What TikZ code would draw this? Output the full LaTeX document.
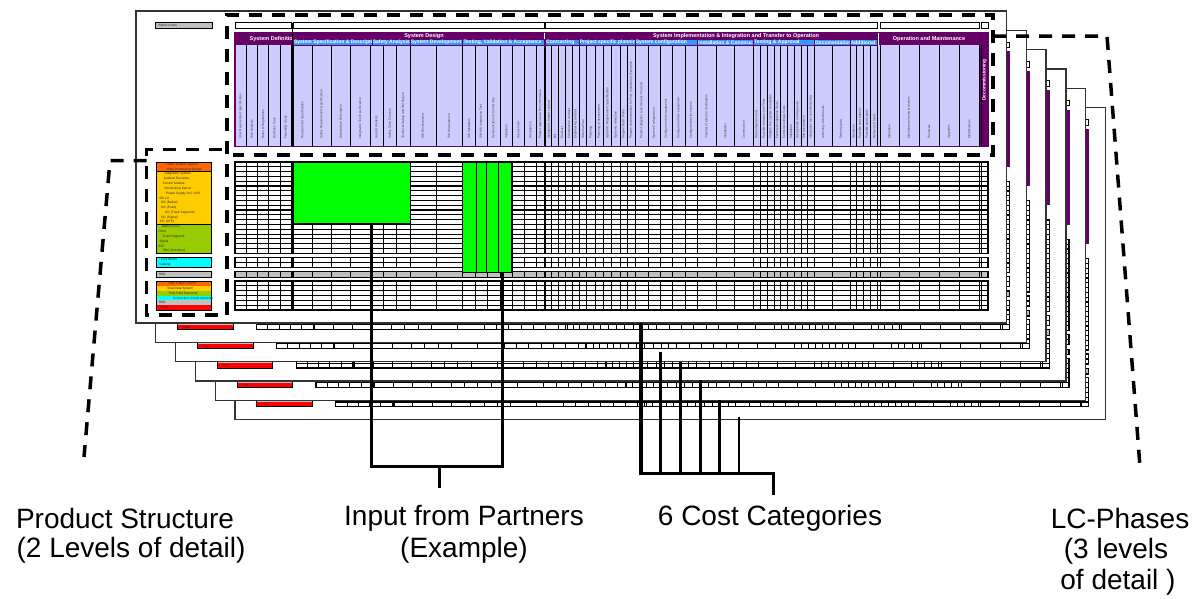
\documentclass[tikz,border=0pt]{standalone}
\usepackage{fontspec}
\setmainfont{Liberation Sans}
\setsansfont{Liberation Sans}
\definecolor{phasepurple}{HTML}{660066}
\definecolor{lav}{HTML}{CCCCFF}
\definecolor{subblue}{HTML}{3399FF}
\definecolor{psorange}{HTML}{FF6600}
\definecolor{psyellow}{HTML}{FFCC00}
\definecolor{psgreen}{HTML}{99CC00}
\definecolor{pscyan}{HTML}{00FFFF}
\definecolor{psgrey}{HTML}{C0C0C0}
\definecolor{psred}{HTML}{FF0000}
\definecolor{inputgreen}{HTML}{00FF00}
\def\tcols{246.3,257.7,268.7,280,291.7,293.3,312,331.3,350.7,370,383.3,396.7,410,436,462.7,475,487.3,500,512.3,524.3,536.7,544,545.5,551.7,558.3,565.7,572.3,579,586.7,595,603.3,611.7,620,627.3,635,648.3,660,672.3,685,697.3,716,734.3,753.3,760,767.3,774,780.7,787.7,794.3,801,807.3,814.3,832.3,850,856.7,863.3,870.7,877.7,880,899,919,939,959.3,979.3,981}
\newcommand{\tgroup}[3]{%
  \foreach \r in {1,...,#3}{\ifnum\r<#3 \draw[tblh] (235,{#1+\r*(#2-#1)/#3}) -- (988,{#1+\r*(#2-#1)/#3});\fi}
  \foreach \xx in \tcols {\draw[tbl] (\xx,#1) -- (\xx,#2);}
  \draw[line width=1.8pt] (292.5,#1) -- (292.5,#2);
  \draw[tblh] (235,#1) rectangle (988,#2);
}
\newcommand{\sheetbody}{%
  \draw[thinbox,fill=psgrey] (155,22.7) rectangle (212,28.3);
  \foreach \xa/\xb in {235/291.7,293.3/544,545.5/877.7,880/979.3,981/988}{\draw[thinbox,fill=white] (\xa,22.7) rectangle (\xb,28.3);}
  \fill[phasepurple] (235,32.7) rectangle (988,146.7);
  \fill[lav] (235,45) rectangle (979.3,146.7);
  \foreach \xx in \tcols {\draw[tbl] (\xx,45) -- (\xx,146.7);}
  \draw[line width=1.8pt] (292.5,22.7) -- (292.5,146.7);
  \draw[phasepurple,line width=1.2pt] (235,32.7) rectangle (988,146.7);
  \draw[white,line width=0.8pt] (544.7,32.7) -- (544.7,45) (878.7,32.7) -- (878.7,45);
  \fill[psgrey] (235,271.7) rectangle (988,277.3);
  \tgroup{162}{253.3}{19}
  \tgroup{257.3}{267.3}{2}
  \tgroup{271.7}{277.3}{1}
  \tgroup{281}{310}{6}
  \fill[psorange] (156,162) rectangle (211.7,171.61);
  \fill[psyellow] (156,171.61) rectangle (211.7,224.47);
  \fill[psgreen] (156,224.47) rectangle (211.7,253.3);
  \draw[thinbox] (156,162) rectangle (211.7,253.3) (156,171.61) -- (211.7,171.61) (156,224.47) -- (211.7,224.47);
  \draw[thinbox,fill=pscyan] (156,257.3) rectangle (211.7,267.3);
  \draw[thinbox,fill=psgrey] (156,271.7) rectangle (211.7,277.3);
  \foreach \i/\cc in {0/psorange,1/psyellow,2/psgreen,3/pscyan,4/psgrey,5/psred}{\fill[\cc] (156,{281+\i*4.8333}) rectangle (211.7,{281+(\i+1)*4.8333});}
  \draw[thinbox] (156,281) rectangle (211.7,310);
}
\newcommand{\pslabels}{%
  \foreach \i/\xx/\t in {0/166/{Traffic Control System},1/167/{Data Processing System},2/164.3/{Diagnostic System},3/163.3/{Juridical Recorder},4/162.7/{Control Module},5/164.3/{Interlocking Kernel},6/166/{Power Supply incl. UPS},7/159.3/{OC-LX},8/161/{OC (Balise)},9/161/{OC (Point)},10/165/{OC (Track Segment)},11/161/{OC (Signal)},12/160/{OC (ATP)},13/161.7/{Balise (LEU)},14/158.3/{Point},15/162.7/{Track Segment},16/159.3/{Signal},17/158.3/{ATP},18/162.7/{RBC (Interface)}}{\node[pslabel] (ps\i) at (\xx,{162+(\i+0.5)*4.8053}) {\t};}
  \node[pslabel] (civ) at (161,259.8) {Civil Works};
  \node[pslabel] (cab) at (159.3,264.8) {Cabling};
  \node[pslabel] (rbc) at (159,274.5) {RBC};
  \node[pslabel,anchor=center] (ttc) at (182,283.4) {Total Traffic Control};
  \node[pslabel,anchor=center] (tds) at (180,288.25) {Total Data System};
  \node[pslabel,anchor=center] (tfe) at (183,293.1) {Total Field Elements};
  \node[pslabel,anchor=center] (ctf) at (193,297.9) {Connection to field elements};
  \node[pslabel] (trbc) at (159,302.75) {RBC};
}
\newcommand{\subhdr}[3]{%
  \draw[fill=subblue,draw=phasepurple,line width=0.5pt] (#1,39.6) rectangle (#2,45);
  \begin{scope}\clip (#1,39.6) rectangle (#2,45);
  \node[subtxt] at ({#1+0.6},42.4) {#3};
  \end{scope}
}
\newcommand{\sheettexts}{%
  \node[pslabel] (indirect) at (158,25.5) {Indirect costs};
  \begin{scope}\clip (235,32.7) rectangle (291.7,45);
  \node[hdrtxt,anchor=west] (sysdef) at (249.5,39) {System Definition};
  \end{scope}
  \node[hdrtxt] (sysdes) at (424,36.1) {System Design};
  \node[hdrtxt] (sysimp) at (736,36.1) {System Implementation \& Integration and Transfer to Operation};
  \node[hdrtxt] (opm) at (929,39) {Operation and Maintenance};
  \node[hdrtxt,rotate=90,font=\fontsize{4.8}{5}\bfseries\selectfont] (decom) at (984.5,80) {Decommissioning};
  \subhdr{293.3}{372}{System Specification \& Description}
  \subhdr{372}{410}{Safety Analysis}
  \subhdr{410}{462.7}{System Development}
  \subhdr{462.7}{544}{Testing, Validation \& Acceptance}
  \subhdr{545.5}{579}{Contracting}
  \subhdr{579}{635}{Project specific planning}
  \subhdr{635}{697.3}{System configuration}
  \subhdr{697.3}{753.3}{Installation \& Construction}
  \subhdr{753.3}{814.3}{Testing \& Approval}
  \subhdr{814.3}{850}{Documentation}
  \subhdr{850}{877.7}{Additional}
  \foreach \xa/\xb/\t [count=\n] in {235/246.3/{User Requirement Specification},246.3/257.7/{Risk Analysis},257.7/268.7/{Rules \& Regulations},268.7/280/{Business Case},280/291.7/{Feasibility Study},
  293.3/312/{Requirement Specification},312/331.3/{Safety Requirements Specification},331.3/350.7/{Architecture Description},350.7/370/{Integration Test Specification},370/383.3/{Hazard Analysis},383.3/396.7/{Safety Case Concept},396.7/410/{Technical Safety and HM Report},410/436/{HW Development},436/462.7/{SW Development},462.7/475/{SW Validation},475/487.3/{SW-HW Integration Test},487.3/500/{Demonstration of Conformity},500/512.3/{Validation},512.3/524.3/{Assessment},524.3/536.7/{Acceptance},536.7/544/{Project Application Documentation},
  545.5/551.7/{Invitation to tender contract},551.7/558.3/{Bill},558.3/565.7/{Contract},565.7/572.3/{Construction contract},572.3/579/{Engineering contract},579/586.7/{Scheme Plan},586.7/595/{Planning},595/603.3/{Planning of assessment},603.3/611.7/{Systemic Requirement Specification},611.7/620/{Systemic milestone},620/627.3/{Prepare Basic Plans},627.3/635/{Prepare documentation for Test, Installation, Operation},635/648.3/{Product adaption (use Generic Product)},648.3/660/{System Configuration},660/672.3/{Configure indoor equipment},672.3/685/{Configure outdoor equipment},685/697.3/{Configure data for system},697.3/716/{Transfer of plans to destination},716/734.3/{Installation},734.3/753.3/{Construction},753.3/760/{Data integration test},760/767.3/{Possible infrastructure Tests},767.3/774/{Prepare Pre-system Simulation},774/780.7/{Factory Acceptance Tests},780.7/787.7/{Commissioning \& Tests},787.7/794.3/{Validation},794.3/801/{Assessment and Approval},801/807.3/{Site acceptance},807.3/814.3/{Integration test commissioning},814.3/832.3/{Archiving of documents},832.3/850/{Delivery data},850/856.7/{Handover},856.7/863.3/{Possible user phases},863.3/870.7/{Possible spare parts},870.7/877.7/{Removal of faults},
  880/899/{Operation},899/919/{Maintenance/renewal phases},919/939/{Renewals},939/959.3/{Upgrades},959.3/979.3/{Modifications}}{\node[collabel] (col\n) at ({(\xa+\xb)/2},139) {\t};}
}
\begin{document}
\begin{tikzpicture}[x=1pt,y=-1pt,
  sheet/.style={draw=black!80,line width=1.3pt,fill=white},
  tbl/.style={line width=1pt,black},
  tblh/.style={line width=1.15pt,black},
  thinbox/.style={draw=black,line width=0.9pt},
  dashframe/.style={line width=3.5pt,dash pattern=on 13pt off 10pt},
  conn/.style={line width=3.5pt,line join=miter},
  biglabel/.style={font=\fontsize{28}{32}\selectfont,inner sep=0},
  pslabel/.style={font=\fontsize{3.2}{3.5}\selectfont,inner sep=0,anchor=west,text=black!85},
  collabel/.style={font=\fontsize{3.2}{3.5}\selectfont,inner sep=0,anchor=west,rotate=90,text=black!75},
  hdrtxt/.style={font=\fontsize{5.5}{6}\bfseries\selectfont,text=white,inner sep=0},
  subtxt/.style={font=\fontsize{5}{5.5}\bfseries\selectfont,text=white,inner sep=0,anchor=west}]
\useasboundingbox (0,0) rectangle (1198,598);
\fill[white] (0,0) rectangle (1198,598);
% back sheets
\foreach \k in {5,4,3,2,1}{
  \draw[sheet] ({136+19.8*\k},{11+19.35*\k}) rectangle ({1006.5+19.8*\k},{323+19.35*\k});
  \begin{scope}[shift={({19.8*\k+1.8},{19.35*\k})}]
    \sheetbody
    \node[pslabel] (tot\k) at (160.7,307.6) {Total};
  \end{scope}
}
% front sheet
\draw[sheet] (136,11) rectangle (1006.5,323);
\sheetbody
\pslabels
\node[pslabel] (tot0) at (160.7,307.6) {Total};
\sheettexts
% input from partners boxes
\draw[fill=inputgreen,line width=1.2pt] (293.3,162) rectangle (410.7,223.3);
\draw[fill=inputgreen,line width=1.2pt] (462.7,162.7) rectangle (512,272.3);
\draw[line width=1.2pt] (476.7,162.7) -- (476.7,272.3) (486.3,162.7) -- (486.3,272.3) (498.3,162.7) -- (498.3,272.3);
% dashed frames
\draw[dashframe] (227,315) -- (227,15) -- (993,15) -- (993,155) -- (233,155);
\draw[dashframe] (222,149.5) -- (146.5,149.5) -- (146.5,315) -- (222,315);
\coordinate (psL) at (146.5,160.7);
\coordinate (psK) at (110,160.7);
\coordinate (psE) at (84,457);
\draw[dashframe] (psL) -- (psK) -- (psE);
\coordinate (lcA) at (993,36);
\coordinate (lcK) at (1107,36);
\coordinate (lcE) at (1140,467);
\draw[dashframe] (lcA) -- (lcK) -- (lcE);
% connectors: input from partners
\coordinate (gA) at (371.7,223.3);
\coordinate (gB) at (502.3,272.3);
\coordinate (jL) at (371.7,466.7);
\coordinate (jR) at (502.3,466.7);
\coordinate (jM) at (439.3,466.7);
\coordinate (jE) at (439.3,488.3);
\draw[conn] (gA) -- (jL) -- (jR) -- (gB);
\draw[conn] (jM) -- (jE);
% connectors: cost categories
\coordinate (c1) at (641,323);
\coordinate (c2) at (660.7,351.7);
\coordinate (c3) at (680,361.7);
\coordinate (c4) at (700,380);
\coordinate (c5) at (719.3,400);
\coordinate (c6) at (739.3,416.7);
\coordinate (b1) at (641,473.3);
\coordinate (b2) at (660.7,473.3);
\coordinate (b3) at (680,473.3);
\coordinate (b4) at (700,473.3);
\coordinate (b5) at (719.3,473.3);
\coordinate (b6) at (739.3,473.3);
\coordinate (bR) at (773.3,473.3);
\coordinate (bE) at (773.3,495);
\draw[conn] (c1) -- (b1) -- (bR) -- (bE);
\draw[line width=3pt] (c2) -- (b2) (c3) -- (b3) (c4) -- (b4) (c5) -- (b5);
\draw[line width=2.2pt] (c6) -- (b6);
% labels
\node[biglabel] (lps1) at (125,518) {Product Structure};
\node[biglabel] (lps2) at (131,550) {(2 Levels of detail)};
\node[biglabel] (lip1) at (464,518) {Input from Partners};
\node[biglabel] (lip2) at (464,550) {(Example)};
\node[biglabel] (lcc) at (770,518) {6 Cost Categories};
\node[biglabel] (llc1) at (1120,518) {LC-Phases};
\node[biglabel] (llc2) at (1116,551) {(3 levels};
\node[biglabel] (llc3) at (1118,582) {of detail )};
\end{tikzpicture}
\end{document}
